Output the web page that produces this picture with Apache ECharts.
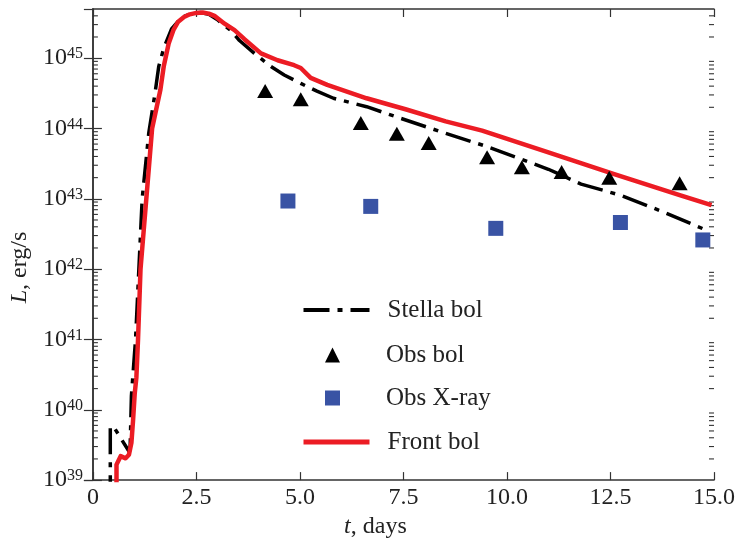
<!DOCTYPE html>
<html>
<head>
<meta charset="utf-8">
<script src="https://cdn.jsdelivr.net/npm/echarts@6/dist/echarts.min.js"></script>
<style>
html,body{margin:0;padding:0;background:#fff;}
#chart{width:738px;height:544px;}
</style>
</head>
<body>
<div id="chart"></div>
<script>
// Stella bol (dash-dot), t in days, L in erg/s
var stellaT = [0.42, 0.42, 0.50, 0.87, 0.90, 0.93, 1.03, 1.11, 1.19, 1.35, 1.50, 1.59, 1.71, 1.90, 2.14, 2.40, 2.60, 2.80, 3.00, 3.34, 3.54, 3.90, 4.30, 4.62, 5.02, 5.41, 5.81, 6.61, 7.41, 8.37, 9.48, 11.00, 11.79, 12.75, 13.79, 14.83];
var stellaL = [5e38, 5.75e39, 5.75e39, 2.57e39, 3.0e39, 1.58e40, 1e41, 1e42, 1e43, 8.71e43, 3.16e44, 7.59e44, 1.38e45, 2.6e45, 3.80e45, 4.35e45, 4.47e45, 4.2e45, 3.55e45, 2.45e45, 1.78e45, 1.17e45, 7.59e44, 5.75e44, 4.37e44, 3.39e44, 2.69e44, 2.04e44, 1.41e44, 9.12e43, 5.62e43, 2.63e43, 1.62e43, 1.12e43, 6.46e42, 3.55e42];

// Front bol (red)
var frontT = [0.57, 0.57, 0.67, 0.79, 0.87, 0.93, 0.97, 1.01, 1.05, 1.09, 1.15, 1.29, 1.43, 1.63, 1.71, 1.83, 1.95, 2.06, 2.20, 2.34, 2.50, 2.65, 2.80, 2.95, 3.18, 3.42, 3.66, 4.06, 4.46, 4.86, 5.02, 5.26, 5.66, 6.61, 7.57, 8.52, 9.40, 11.00, 12.59, 14.19, 14.94];
var frontL = [5e38, 1.66e39, 2.19e39, 2.04e39, 2.29e39, 3.39e39, 7.08e39, 1.70e40, 2.88e40, 1e41, 1e42, 1e43, 1e44, 3.55e44, 7.59e44, 1.62e45, 2.55e45, 3.3e45, 3.85e45, 4.2e45, 4.4e45, 4.45e45, 4.3e45, 3.95e45, 3.09e45, 2.5e45, 1.86e45, 1.17e45, 9.33e44, 7.94e44, 7.24e44, 5.25e44, 4.17e44, 2.69e44, 1.86e44, 1.26e44, 9.33e43, 4.57e43, 2.24e43, 1.12e43, 8.13e42];

// Obs bol (triangles)
var obsBolT = [4.16, 5.02, 6.47, 7.34, 8.11, 9.52, 10.36, 11.32, 12.47, 14.17];
var obsBolL = [3.4e44, 2.6e44, 1.2e44, 8.4e43, 6.2e43, 3.9e43, 2.8e43, 2.4e43, 2.0e43, 1.66e43];

// Obs X-ray (squares)
var xrayT = [4.71, 6.71, 9.73, 12.74, 14.73];
var xrayL = [9.3e42, 7.8e42, 3.8e42, 4.6e42, 2.6e42];

var xMin = 0, xMax = 15, xStep = 2.5;
var yMin = 1e39, yMax = 5e45;

function pairs(a, b){
	var out = [];
	for (var i = 0; i < a.length; i++) out.push([a[i], b[i]]);
	return out;
}

// log minor tick values 2..9 x 10^n
var minorVals = [];
for (var d = 39; d <= 45; d++) {
	for (var k = 2; k <= 9; k++) {
		var v = k * Math.pow(10, d);
		if (v < yMax) minorVals.push([v]);
	}
}

var serif = 'Liberation Serif';
var frame = '#333';
var legendText = {fontFamily: serif, fontSize: 25, color: '#222', lineHeight: 28};

var chart = echarts.init(document.getElementById('chart'));

var option = {
	animation: false,
	backgroundColor: '#fff',
	grid: {left: 87, right: 24, top: 9, bottom: 60},
	legend: [{
		// line entries
		orient: 'vertical',
		left: 296,
		top: 291,
		itemWidth: 66,
		itemHeight: 15,
		itemGap: 104,
		data: [
			{name: 'Stella bol', itemStyle: {opacity: 0}, lineStyle: {width: 4}},
			{name: 'Front bol', itemStyle: {opacity: 0}, lineStyle: {width: 5}}
		],
		textStyle: Object.assign({padding: [0, 0, 0, 13]}, legendText)
	}, {
		// marker entries
		orient: 'vertical',
		left: 320,
		top: 336,
		itemWidth: 15,
		itemHeight: 15,
		itemGap: 15,
		data: ['Obs bol', 'Obs X-ray'],
		textStyle: Object.assign({padding: [0, 0, 0, 41]}, legendText)
	}],
	xAxis: [{
		type: 'value', min: xMin, max: xMax, interval: xStep,
		name: '{i|t}, days', nameLocation: 'middle', nameGap: 28,
		nameTextStyle: {fontFamily: serif, fontSize: 24, color: '#222', padding: [0, 56, 0, 0],
			rich: {i: {fontFamily: serif, fontStyle: 'italic', fontSize: 24, color: '#222'}}},
		axisLine: {lineStyle: {color: frame, width: 1.5}},
		axisTick: {inside: true, length: 8, lineStyle: {color: frame, width: 1.2}},
		axisLabel: {fontFamily: serif, fontSize: 24, color: '#222', margin: 6,
			formatter: function(v){ return v === 0 ? '0' : v.toFixed(1); }},
		splitLine: {show: false}
	}, {
		type: 'value', position: 'top', min: xMin, max: xMax, interval: xStep,
		axisLine: {lineStyle: {color: frame, width: 1.5}},
		axisTick: {inside: true, length: 8, lineStyle: {color: frame, width: 1.2}},
		axisLabel: {show: false},
		splitLine: {show: false}
	}],
	yAxis: [{
		type: 'log', logBase: 10, min: yMin, max: yMax,
		name: '{i|L}, erg/s', nameLocation: 'middle', nameGap: 55,
		nameTextStyle: {fontFamily: serif, fontSize: 24, color: '#222', padding: [0, 46, 0, 0],
			rich: {i: {fontFamily: serif, fontStyle: 'italic', fontSize: 24, color: '#222'}}},
		axisLine: {show: true, lineStyle: {color: frame, width: 1.5}},
		axisTick: {inside: true, length: 9, lineStyle: {color: frame, width: 1.2}},
		axisLabel: {fontFamily: serif, fontSize: 24, color: '#222', margin: 10, showMaxLabel: false,
			formatter: function(v){
				var e = Math.log10(v), r = Math.round(e);
				if (Math.abs(e - r) > 1e-6) return '';
				return '10{s|' + r + '}';
			},
			rich: {s: {fontFamily: serif, fontSize: 16, color: '#222', verticalAlign: 'top', padding: [0, 0, 3, 0]}}},
		splitLine: {show: false}
	}, {
		type: 'log', logBase: 10, min: yMin, max: yMax, position: 'right',
		axisLine: {show: true, lineStyle: {color: frame, width: 1.5}},
		axisTick: {inside: true, length: 9, lineStyle: {color: frame, width: 1.2}},
		axisLabel: {show: false},
		splitLine: {show: false}
	}],
	series: [
		{
			type: 'custom', name: 'minor', silent: true, z: 1,
			xAxisIndex: 0, yAxisIndex: 0,
			data: minorVals,
			encode: {y: 0},
			renderItem: function(params, api){
				var v = api.value(0);
				var l = api.coord([xMin, v]);
				var r = api.coord([xMax, v]);
				var st = {stroke: frame, lineWidth: 1.1};
				return {type: 'group', children: [
					{type: 'line', shape: {x1: l[0], y1: l[1], x2: l[0] + 5, y2: l[1]}, style: st},
					{type: 'line', shape: {x1: r[0], y1: r[1], x2: r[0] - 5, y2: r[1]}, style: st}
				]};
			}
		},
		{
			name: 'Stella bol', type: 'line', showSymbol: false, symbol: 'none', z: 3,
			data: pairs(stellaT, stellaL),
			lineStyle: {color: '#000', width: 3.5, type: [26, 8, 5, 8], cap: 'butt'},
			itemStyle: {color: '#000'}
		},
		{
			name: 'Front bol', type: 'line', showSymbol: false, symbol: 'none', z: 4,
			data: pairs(frontT, frontL),
			lineStyle: {color: '#ec1c24', width: 4.5, join: 'round'},
			itemStyle: {color: '#ec1c24'}
		},
		{
			name: 'Obs bol', type: 'scatter', symbol: 'triangle', symbolSize: [16, 14], z: 5,
			data: pairs(obsBolT, obsBolL),
			itemStyle: {color: '#000', opacity: 1}
		},
		{
			name: 'Obs X-ray', type: 'scatter', symbol: 'rect', symbolSize: 15, z: 5,
			data: pairs(xrayT, xrayL),
			itemStyle: {color: '#3953a4', opacity: 1}
		}
	]
};

chart.setOption(option);
</script>
</body>
</html>
